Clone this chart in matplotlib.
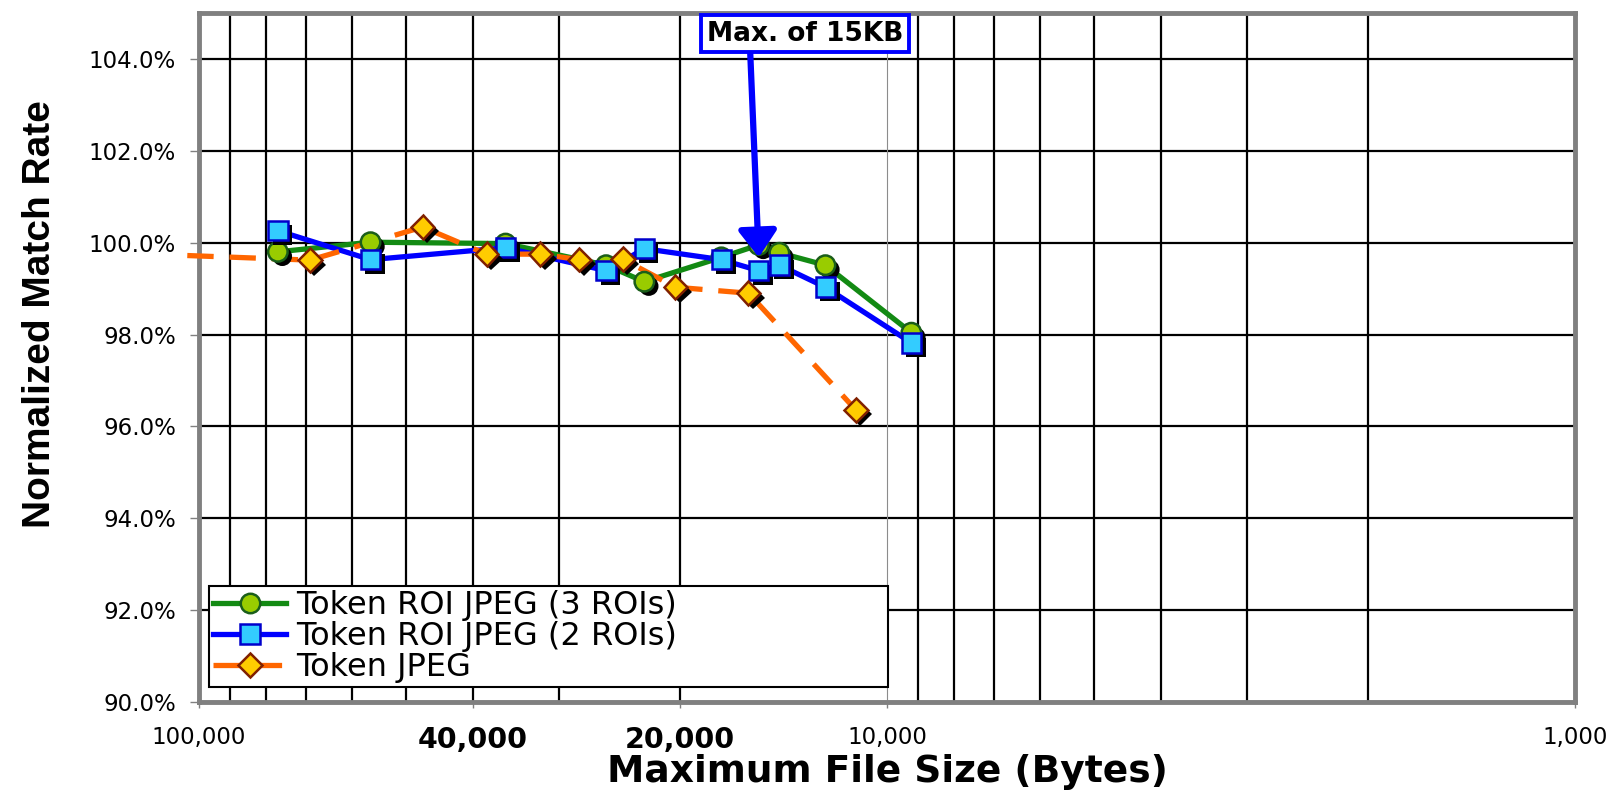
import numpy as np
import matplotlib
matplotlib.use("Agg")
import matplotlib.pyplot as plt
import matplotlib.patheffects as pe
from matplotlib.lines import Line2D
from matplotlib.ticker import FixedLocator, LogLocator, NullFormatter

# file sizes in bytes (ROI series sit on whole-KB sizes)
roi_sizes = [76800, 56320, 35840, 25600, 22528, 17408, 15360, 14336, 12288, 9216]
roi3_rate = [99.80, 100.01, 99.98, 99.51, 99.15, 99.68, 99.95, 99.78, 99.51, 98.04]
roi2_rate = [100.26, 99.63, 99.89, 99.39, 99.87, 99.63, 99.39, 99.51, 99.03, 97.82]

# plain JPEG; first point lies just past the left edge of the axis
jpeg_sizes = [104000, 69000, 47300, 38200, 31900, 28000, 24200, 20300, 15900, 11100]
jpeg_rate = [99.72, 99.62, 100.34, 99.75, 99.75, 99.63, 99.64, 99.03, 98.90, 96.36]

labels = ["Token ROI JPEG (3 ROIs)", "Token ROI JPEG (2 ROIs)", "Token JPEG"]
x_ticks = [100000, 40000, 20000, 10000, 1000]
x_ticklabels = ["100,000", "40,000", "20,000", "10,000", "1,000"]
y_ticks = [90, 92, 94, 96, 98, 100, 102, 104]

max_size = 15360      # 15KB marker
max_rate_tip = 99.68

W, H = 1616, 790
fig = plt.figure(figsize=(W / 100, H / 100), dpi=100)
ax = fig.add_axes([199 / W, 1 - 702 / H, (1575 - 199) / W, (702 - 13) / H])

ax.set_xscale("log")
ax.set_xlim(100000, 1000)
ax.set_ylim(90, 105)

# grid
ax.xaxis.set_minor_locator(LogLocator(base=10, subs=np.arange(2, 10)))
ax.xaxis.set_minor_formatter(NullFormatter())
ax.xaxis.remove_overlapping_locs = False
ax.grid(True, which="minor", axis="x", color="black", lw=1.6)
ax.grid(True, which="major", axis="y", color="black", lw=1.6)
ax.grid(False, which="major", axis="x")
ax.axvline(10000, color="#8c8c8c", lw=0.8, zorder=1)
ax.set_axisbelow(True)

for s in ax.spines.values():
    s.set_color("#808080")
    s.set_linewidth(3.5)

ax.xaxis.set_major_locator(FixedLocator(x_ticks))
ax.set_xticklabels(x_ticklabels)
ax.set_yticks(y_ticks)
ax.set_yticklabels([f"{v:.1f}%" for v in y_ticks])
ax.tick_params(which="minor", length=0)
ax.tick_params(axis="x", which="major", length=4, width=1, color="#808080", pad=13, labelsize=16.5)
ax.tick_params(axis="y", which="major", length=6.5, width=1, color="#808080", pad=10, labelsize=16.5)
for t in ax.get_xticklabels():
    if t.get_text() in ("40,000", "20,000"):
        t.set_fontweight("bold")
        t.set_fontsize(20.5)

shadow = [pe.SimplePatchShadow(offset=(3.2, -3.2), shadow_rgbFace="black", alpha=1.0), pe.Normal()]

series = [
    (roi_sizes, roi3_rate, "#138a13", "o", "#99cc00", "#1a5e1a", "-"),
    (roi_sizes, roi2_rate, "#0000ff", "s", "#33ccff", "#0000cc", "-"),
    (jpeg_sizes, jpeg_rate, "#ff6600", "D", "#ffcc00", "#802000", (0, (5, 3))),
]

for i, (xs, ys, lc, mk, mfc, mec, ls) in enumerate(series):
    ax.plot(xs, ys, color=lc, lw=3.8, ls=ls, zorder=3 + i, clip_on=False,
            solid_capstyle="butt", dash_capstyle="butt")
    start = 1 if xs[0] > 100000 else 0
    ax.plot(xs[start:], ys[start:], ls="none", marker=mk, ms=14 if mk != "D" else 12,
            mfc=mfc, mec=mec, mew=1.8, zorder=6 + i, path_effects=shadow)

handles = [
    Line2D([], [], color=c[2], lw=3.8, ls=c[6], marker=c[3], ms=14 if c[3] != "D" else 12,
           mfc=c[4], mec=c[5], mew=1.8)
    for c in series
]
leg = ax.legend(handles, labels, loc="lower left",
                bbox_to_anchor=(0.0073, 0.0218, 0.4934, 0.1567), mode="expand",
                borderaxespad=0, fontsize=23, handlelength=2.3, handletextpad=0.3,
                labelspacing=0.0, borderpad=0.12, fancybox=False, framealpha=1)
leg.get_frame().set_edgecolor("black")
leg.get_frame().set_linewidth(1.5)
leg.set_zorder(10)

ax.annotate("Max. of 15KB", xy=(max_size, max_rate_tip), xytext=(13160, 104.55),
            textcoords="data", ha="center", va="center", fontsize=19, fontweight="bold",
            annotation_clip=False,
            bbox=dict(boxstyle="square,pad=0.22", fc="white", ec="#0000ff", lw=2.8),
            arrowprops=dict(arrowstyle="-|>,head_length=0.9,head_width=0.65",
                            color="#0000ff", lw=4.5, mutation_scale=18,
                            shrinkA=0, shrinkB=0, relpos=(0.22, 0)),
            zorder=12)

ax.set_xlabel("Maximum File Size (Bytes)", fontsize=27, fontweight="bold", va="center")
ax.xaxis.set_label_coords(0.5, -0.102)
ax.set_ylabel("Normalized Match Rate", fontsize=28, fontweight="bold", va="center",
              family="Liberation Sans")
ax.yaxis.set_label_coords(-0.1156, 0.563)

fig.savefig("out.png", dpi=100)
